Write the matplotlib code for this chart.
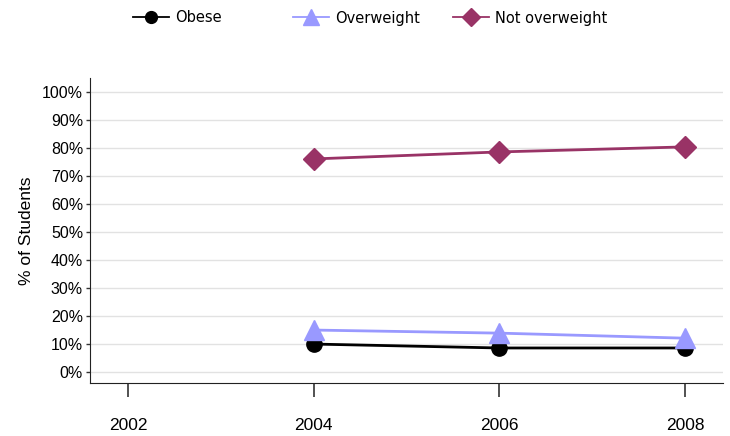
import matplotlib
matplotlib.use('Agg')
import matplotlib.pyplot as plt
import numpy as np

years = [2004, 2006, 2008]
obese = [10.0, 8.6, 8.6]
overweight = [15.0, 13.9, 12.1]
not_overweight = [76.1, 78.6, 80.4]
x_ticks = [2002, 2004, 2006, 2008]
y_ticks = np.arange(0, 101, 10)
series_names = ['Obese', 'Overweight', 'Not overweight']

plt.rcParams['font.family'] = ['Liberation Sans', 'DejaVu Sans']

fig = plt.figure(figsize=(7.3, 4.36), dpi=100)
ax = fig.add_axes([0.1233, 0.1216, 0.8671, 0.6995])

l1, = ax.plot(years, obese, color='black', marker='o', markersize=11, linewidth=2, label=series_names[0])
l2, = ax.plot(years, overweight, color='#9999ff', marker='^', markersize=14.5, linewidth=2, label=series_names[1])
l3, = ax.plot(years, not_overweight, color='#993366', marker='D', markersize=11.5, linewidth=2, label=series_names[2])

ax.set_xlim(2001.59, 2008.41)
ax.set_ylim(-3.9, 105)
ax.set_xticks(x_ticks)
ax.set_yticks(y_ticks)
ax.set_yticklabels(['{}%'.format(v) for v in y_ticks])
ax.tick_params(axis='y', labelsize=11.5, length=3, width=1, color='#333333', pad=2)
ax.tick_params(axis='x', labelsize=12.5, length=10, width=1.2, color='#333333', pad=15)
ax.set_ylabel('% of Students', fontsize=12.5, labelpad=6)

for side in ['top', 'right']:
    ax.spines[side].set_visible(False)
for side in ['left', 'bottom']:
    ax.spines[side].set_color('#222222')

ax.yaxis.grid(True, color='#e2e2e2', linewidth=1)
ax.set_axisbelow(True)

# one legend per entry so that columns have equal width as in the reference
legend_x = [133 / 730, 293 / 730, 453 / 730]
legend_ms = [8.5, 11, 9]
for line, xpos, ms in zip([l1, l2, l3], legend_x, legend_ms):
    h = plt.Line2D([0], [0], color=line.get_color(), marker=line.get_marker(),
                   markersize=ms, linewidth=1.3)
    leg = fig.legend(handles=[h], labels=[line.get_label()], loc='center left',
                     bbox_to_anchor=(xpos, 1 - 18 / 436), frameon=False,
                     prop={'family': 'DejaVu Sans', 'size': 10.5}, handlelength=2.5,
                     handletextpad=0.4, borderpad=0, borderaxespad=0)

fig.savefig('out.png', dpi=100)
